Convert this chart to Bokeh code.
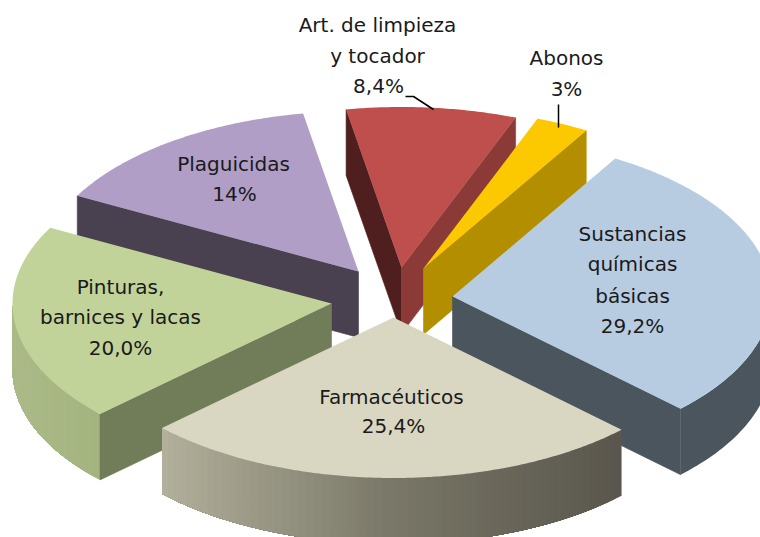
import math
from bokeh.plotting import figure
from bokeh.models import Range1d
from bokeh.core.properties import value
from bokeh.embed import file_html
from bokeh.resources import INLINE

# ---- data
categories = ["Art. de limpieza y tocador", "Abonos", "Sustancias químicas básicas",
              "Farmacéuticos", "Pinturas, barnices y lacas", "Plaguicidas"]
# slice sizes (the labels round them differently)
shares = [8.6, 2.7, 28.8, 25.6, 19.9, 14.4]
label_lines = ["Art. de limpieza", "y tocador", "8,4%", "Abonos", "3%",
               "Sustancias", "químicas", "básicas", "29,2%",
               "Farmacéuticos", "25,4%", "Pinturas,", "barnices y lacas", "20,0%",
               "Plaguicidas", "14%"]

# ---- layout and styles (pixels of the 760x537 picture)
START = 260.0
RX, RY, DEPTH = 319.0, 160.5, 66.0
apex = [(401, 267), (423, 268), (452, 296), (393, 317), (331, 303), (358, 271)]
top_col = ["#be4f4d", "#fcc800", "#b7cce1", "#d9d7c2", "#c2d399", "#b09ec6"]
start_wall = ["#4f1f1f", "#b38f00", "#4b555e", "#5a564d", "#717c59", "#4a4150"]
end_wall = ["#8c3a38", "#b38f00", "#4b555e", "#5a564d", "#717c59", "#4a4150"]
side_ramp = [["#8c3a38", "#8c3a38"], ["#b38f00", "#b38f00"], ["#4b555e", "#4b555e"],
             [(179, 176, 156), (122, 120, 104), (90, 86, 77)],
             [(171, 186, 136), (164, 180, 127)], ["#4a4150", "#4a4150"]]
draw_order = [5, 0, 1, 2, 4, 3]
label_x = [377, 377, 378, 566, 566, 632, 632, 632, 632, 391, 393, 120, 120, 120, 233, 234]
label_y = [24, 55, 85, 57, 88, 233, 263, 295, 325, 396, 425, 286, 316, 347, 163, 193]

p = figure(width=760, height=537, output_backend="svg", toolbar_location=None,
           x_axis_type=None, y_axis_type=None, min_border=0,
           x_range=Range1d(0, 760), y_range=Range1d(537, 0),
           outline_line_color=None, background_fill_color="white")
p.grid.visible = False


def pt(c, t, dz=0.0):
    a = math.radians(t)
    return c[0] + RX * math.cos(a), c[1] + RY * math.sin(a) + dz


def ramp_color(stops, f):
    if isinstance(stops[0], str):
        return stops[0]
    f = max(0.0, min(1.0, f)) * (len(stops) - 1)
    i = min(int(f), len(stops) - 2)
    u = f - i
    rgb = [round(stops[i][k] + (stops[i + 1][k] - stops[i][k]) * u) for k in range(3)]
    return "#%02x%02x%02x" % tuple(rgb)


# angular extent of every slice, taken from its share
angles = []
cur = START
for v in shares:
    angles.append((cur, cur + v * 3.6))
    cur += v * 3.6

for i in draw_order:
    t0, t1 = angles[i]
    c = apex[i]
    # curved outer wall, front half only
    if i == 2:
        lo, hi = 0.0, t1 % 360
    elif i in (3, 4):
        lo, hi = t0 % 360, min(t1 % 360, 180.0)
    else:
        lo, hi = None, None
    if lo is not None:
        xa, xb = pt(c, hi)[0], pt(c, lo)[0]
        xmin, xmax = min(xa, xb), max(xa, xb)
        n = 60
        # painted one over the other so that no seams show between the strips
        for k in range(n):
            u0 = lo + (hi - lo) * k / n
            steps = [u0 + (hi - u0) * s / 40 for s in range(41)]
            top = [pt(c, u) for u in steps]
            xs = [q[0] for q in top] + [q[0] for q in reversed(top)]
            ys = [q[1] for q in top] + [q[1] + DEPTH for q in reversed(top)]
            mid = pt(c, u0)[0]
            p.patch(xs, ys, fill_color=ramp_color(side_ramp[i], (mid - xmin) / (xmax - xmin)),
                    line_color=None)
            if isinstance(side_ramp[i][0], str):
                break
    # flat walls
    if math.cos(math.radians(t0)) < 0:
        a, b = pt(c, t0), pt(c, t0, DEPTH)
        p.patch([c[0], a[0], b[0], c[0]], [c[1], a[1], b[1], c[1] + DEPTH],
                fill_color=start_wall[i], line_color=start_wall[i], line_width=0.6)
    if math.cos(math.radians(t1)) > 0:
        a, b = pt(c, t1), pt(c, t1, DEPTH)
        p.patch([c[0], a[0], b[0], c[0]], [c[1], a[1], b[1], c[1] + DEPTH],
                fill_color=end_wall[i], line_color=end_wall[i], line_width=0.6)
    # top face
    n = max(8, int((t1 - t0) * 2))
    arc = [pt(c, t0 + (t1 - t0) * k / n) for k in range(n + 1)]
    p.patch([c[0]] + [q[0] for q in arc], [c[1]] + [q[1] for q in arc],
            fill_color=top_col[i], line_color=None)

# leader lines
p.line([405, 413, 433], [96, 96, 109], line_color="black", line_width=1.5)
p.line([558, 558], [104, 127], line_color="black", line_width=1.5)

p.text(x=label_x, y=label_y, text=label_lines, text_align="center", text_baseline="middle",
       text_font=value("DejaVu Sans"), text_font_size="20px", text_color="#1a1a1a")

open("out.html", "w").write(file_html(p, INLINE))
